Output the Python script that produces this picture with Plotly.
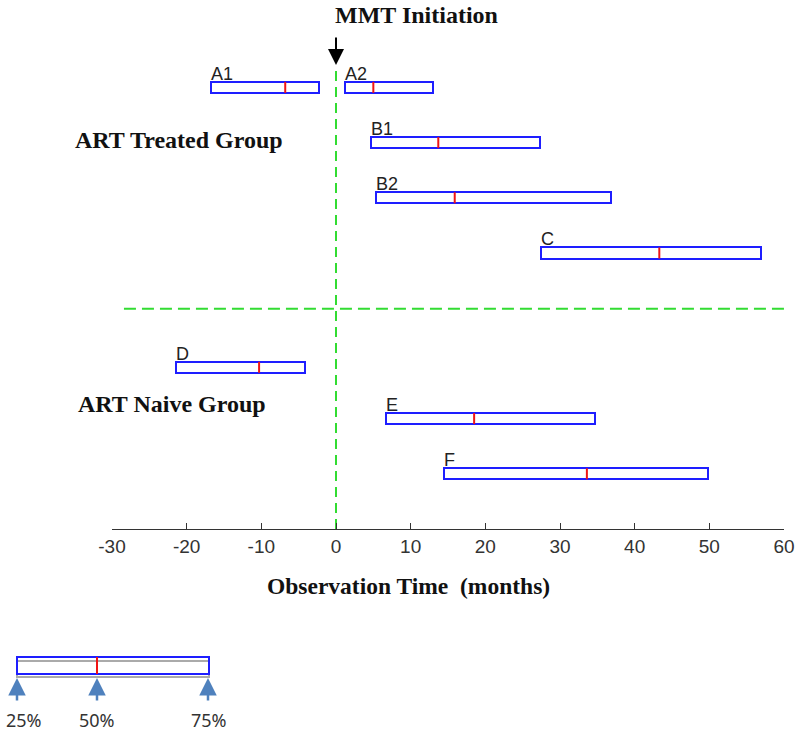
import plotly.graph_objects as go

# interquartile ranges of observation time (months) per group
labels = ["A1", "A2", "B1", "B2", "C", "D", "E", "F"]
q25 = [-16.7, 1.2, 4.7, 5.4, 27.5, -21.4, 6.7, 14.5]
median = [-6.8, 5.0, 13.7, 15.9, 43.3, -10.3, 18.5, 33.6]
q75 = [-2.3, 13.0, 27.3, 36.8, 56.9, -4.1, 34.7, 49.8]

# vertical row of each bar
row_y = [8, 8, 7, 6, 5, 2.93, 2, 1]

x_ticks = [-30, -20, -10, 0, 10, 20, 30, 40, 50, 60]
x_tick_text = ["-30", "-20", "-10", "0", "10", "20", "30", "40", "50", "60"]

BLUE = "rgb(30,30,255)"
RED = "rgb(240,20,20)"
GREEN = "rgb(50,220,50)"
BAR_H = 0.2

# plot area in pixels
L, R, TOP, BOT = 112, 784, 0, 529
W, H = 800, 734


def px(x):
    return (x - L) / (R - L)


def py(y):
    return (BOT - y) / (BOT - TOP)


fig = go.Figure()

fig.add_trace(go.Bar(
    orientation="h",
    y=row_y,
    x=[b - a for a, b in zip(q25, q75)],
    base=q25,
    width=BAR_H,
    marker=dict(color="white", line=dict(color=BLUE, width=2)),
    hoverinfo="skip",
))

mx, my = [], []
for m, y in zip(median, row_y):
    mx += [m, m, None]
    my += [y - BAR_H / 2, y + BAR_H / 2, None]
fig.add_trace(go.Scatter(x=mx, y=my, mode="lines",
                         line=dict(color=RED, width=2), hoverinfo="skip"))

# dashed reference lines
fig.add_trace(go.Scatter(x=[0, 0], y=[0, 8.36], mode="lines",
                         line=dict(color=GREEN, width=2, dash="10px,6px"),
                         hoverinfo="skip"))
fig.add_trace(go.Scatter(x=[-28.4, 60], y=[3.99, 3.99], mode="lines",
                         line=dict(color=GREEN, width=2, dash="12px,6px"),
                         hoverinfo="skip"))

annotations = []
for lab, a, y in zip(labels, q25, row_y):
    annotations.append(dict(
        x=a, y=y + BAR_H / 2, xref="x", yref="y", text=lab,
        showarrow=False, xanchor="left", yanchor="bottom",
        xshift=-2, yshift=-4,
        font=dict(family="Liberation Sans, Arial", size=18, color="#222"),
    ))

serif = dict(family="Liberation Serif, Times New Roman", size=24, color="#111")

annotations += [
    dict(x=px(333), y=py(15), xref="paper", yref="paper",
         text="<b>MMT Initiation</b>", showarrow=False,
         xanchor="left", yanchor="middle", font=serif),
    dict(x=px(73), y=py(140), xref="paper", yref="paper",
         text="<b>ART Treated Group</b>", showarrow=False,
         xanchor="left", yanchor="middle", font=serif),
    dict(x=px(76), y=py(404), xref="paper", yref="paper",
         text="<b>ART Naive Group</b>", showarrow=False,
         xanchor="left", yanchor="middle", font=serif),
    dict(x=px(265), y=py(586), xref="paper", yref="paper",
         text="<b>Observation Time  (months)</b>", showarrow=False,
         xanchor="left", yanchor="middle",
         font=dict(family="Liberation Serif, Times New Roman", size=23.5, color="#111")),
    # arrow marking MMT initiation
    dict(x=0, y=py(65), xref="x", yref="paper", text="",
         showarrow=True, arrowhead=2, arrowsize=1.6, arrowwidth=2,
         arrowcolor="black", ax=0, ay=-29),
]

# schematic key for the bars
shapes = [
    dict(type="rect", xref="paper", yref="paper",
         x0=px(17), x1=px(209), y0=py(661), y1=py(677),
         line=dict(color="#aaaaaa", width=2)),
    dict(type="rect", xref="paper", yref="paper",
         x0=px(17), x1=px(209), y0=py(657), y1=py(674),
         line=dict(color=BLUE, width=2)),
    dict(type="line", xref="paper", yref="paper",
         x0=px(97), x1=px(97), y0=py(657), y1=py(674),
         line=dict(color=RED, width=2)),
]

key_pos = [17, 97, 208]
key_text = ["25%", "50%", "75%"]
key_text_x = [24, 97, 209]
for kx, kt, tx in zip(key_pos, key_text, key_text_x):
    annotations.append(dict(
        x=px(kx), y=py(678), xref="paper", yref="paper", text="",
        showarrow=True, arrowhead=2, arrowsize=1.4, arrowwidth=2.5,
        arrowcolor="rgb(79,129,189)", ax=0, ay=24,
    ))
    annotations.append(dict(
        x=px(tx), y=py(720), xref="paper", yref="paper", text=kt,
        showarrow=False, xanchor="center", yanchor="middle",
        font=dict(family="Noto Sans", size=18, color="#333"),
    ))

fig.update_layout(
    width=W, height=H,
    margin=dict(l=L, r=W - R, t=TOP, b=H - BOT),
    plot_bgcolor="white", paper_bgcolor="white",
    showlegend=False, bargap=0,
    xaxis=dict(range=[-30, 60], tickvals=x_ticks, ticktext=x_tick_text,
               showline=True, linecolor="#333", linewidth=1,
               ticks="inside", ticklen=6, tickcolor="#333",
               showgrid=False, zeroline=False, ticklabelstandoff=0,
               tickfont=dict(family="Liberation Sans, Arial", size=19, color="#333")),
    yaxis=dict(range=[0, (BOT - TOP) / 55.2], visible=False, showgrid=False),
    annotations=annotations,
    shapes=shapes,
)

# drop the default body margin so the figure fills the window exactly
fig.write_html("out.html", config={"displayModeBar": False},
               post_script="document.body.style.margin = '0';")
